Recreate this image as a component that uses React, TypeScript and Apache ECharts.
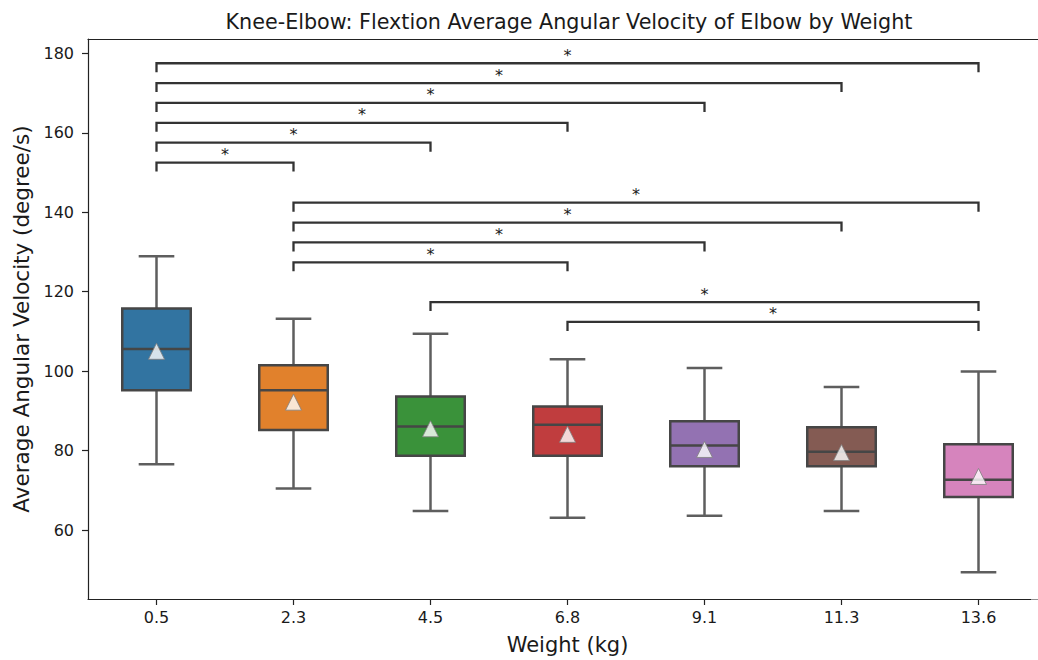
import React, { useEffect, useRef } from "react";
import * as echarts from "echarts";

// Weight categories (kg)
const weights = ["0.5", "2.3", "4.5", "6.8", "9.1", "11.3", "13.6"];

// Box statistics per weight: [lower whisker, Q1, median, Q3, upper whisker]
const lowerWhisker = [76.6, 70.5, 64.8, 63.1, 63.6, 64.8, 49.4];
const q1 = [95.2, 85.2, 78.7, 78.7, 76.1, 76.1, 68.3];
const median = [105.6, 95.2, 86.1, 86.5, 81.3, 79.7, 72.7];
const q3 = [115.8, 101.5, 93.6, 91.1, 87.4, 85.9, 81.6];
const upperWhisker = [128.9, 113.2, 109.4, 103.0, 100.8, 96.0, 99.9];
const means = [105.0, 92.2, 85.5, 84.1, 80.3, 79.5, 73.5];

const boxColors = ["#3274a1", "#e1812c", "#3a923a", "#c03d3e", "#9372b2", "#845b53", "#d684bd"];

// Significant pairwise comparisons: from-index, to-index, bracket height
const pairFrom = [0, 0, 0, 0, 0, 0, 1, 1, 1, 1, 2, 3];
const pairTo = [6, 5, 4, 3, 2, 1, 6, 5, 4, 3, 6, 6];
const pairHeight = [177.5, 172.5, 167.5, 162.5, 157.5, 152.5, 142.4, 137.4, 132.4, 127.4, 117.4, 112.4];
const pairMark = ["*", "*", "*", "*", "*", "*", "*", "*", "*", "*", "*", "*"];

const yTicks = [60, 80, 100, 120, 140, 160, 180];

const FONT = "DejaVu Sans";

export default function App() {
  const ref = useRef<HTMLDivElement>(null);

  useEffect(() => {
    if (!ref.current) return;
    const chart = echarts.init(ref.current, null, { renderer: "svg" });

    const boxData = weights.map((_, i) => [i, lowerWhisker[i], q1[i], median[i], q3[i], upperWhisker[i]]);
    const meanData = weights.map((_, i) => [i, means[i]]);
    const pairData = pairFrom.map((f, k) => [f, pairTo[k], pairHeight[k]]);

    const lineGray = "#5e5e5e";
    const boxEdge = "#464646";
    const spine = { show: true, lineStyle: { color: "#222", width: 1.2 } };

    chart.setOption({
      animation: false,
      title: {
        text: "Knee-Elbow: Flextion Average Angular Velocity of Elbow by Weight",
        left: 564,
        top: 6,
        textAlign: "center",
        textStyle: { fontFamily: FONT, fontSize: 20.7, fontWeight: "normal", color: "#1a1a1a" },
      },
      // the plot box runs a little past the visible right edge
      grid: { left: 88, right: 13, top: 39, bottom: 60 },
      xAxis: [
        {
          type: "category",
          data: weights,
          boundaryGap: true,
          name: "Weight (kg)",
          nameLocation: "middle",
          nameGap: 35,
          nameTextStyle: { fontFamily: FONT, fontSize: 21, color: "#1a1a1a" },
          axisLine: spine,
          axisTick: { show: true, alignWithLabel: true, length: 6, lineStyle: { color: "#222", width: 1.2 } },
          axisLabel: { fontFamily: FONT, fontSize: 16, color: "#1a1a1a", margin: 10 },
          splitLine: { show: false },
        },
        {
          // top spine
          type: "category",
          data: weights,
          position: "top",
          axisLine: spine,
          axisTick: { show: false },
          axisLabel: { show: false },
          splitLine: { show: false },
        },
      ],
      yAxis: {
        type: "value",
        min: 42.66,
        max: 183.6,
        name: "Average Angular Velocity (degree/s)",
        nameLocation: "middle",
        nameGap: 56,
        nameTextStyle: { fontFamily: FONT, fontSize: 21.5, color: "#1a1a1a" },
        axisLine: spine,
        axisTick: { show: true, length: 6, customValues: yTicks, lineStyle: { color: "#222", width: 1.2 } },
        axisLabel: { fontFamily: FONT, fontSize: 16, color: "#1a1a1a", margin: 14, customValues: yTicks },
        splitLine: { show: false },
      },
      graphic: [
        {
          // keep the strip at the canvas edge clean
          type: "rect",
          z: 100,
          shape: { x: 1031, y: 40.5, width: 40, height: 559 },
          style: { fill: "#ffffff" },
        },
      ],
      series: [
        {
          type: "custom",
          name: "boxes",
          data: boxData,
          encode: { x: 0, y: [1, 2, 3, 4, 5] },
          z: 2,
          renderItem: (params: any, api: any) => {
            const i = api.value(0);
            const band = api.size([1, 0])[0];
            const half = band * 0.25;
            const cap = band * 0.13;
            const pLo = api.coord([i, api.value(1)]);
            const pQ1 = api.coord([i, api.value(2)]);
            const pMed = api.coord([i, api.value(3)]);
            const pQ3 = api.coord([i, api.value(4)]);
            const pHi = api.coord([i, api.value(5)]);
            const cx = pMed[0];
            const wStyle = { stroke: lineGray, lineWidth: 2.5, fill: null };
            return {
              type: "group",
              children: [
                { type: "line", shape: { x1: cx, y1: pQ1[1], x2: cx, y2: pLo[1] }, style: wStyle },
                { type: "line", shape: { x1: cx, y1: pQ3[1], x2: cx, y2: pHi[1] }, style: wStyle },
                { type: "line", shape: { x1: cx - cap, y1: pLo[1], x2: cx + cap, y2: pLo[1] }, style: wStyle },
                { type: "line", shape: { x1: cx - cap, y1: pHi[1], x2: cx + cap, y2: pHi[1] }, style: wStyle },
                {
                  type: "rect",
                  shape: { x: cx - half, y: pQ3[1], width: half * 2, height: pQ1[1] - pQ3[1] },
                  style: { fill: boxColors[params.dataIndex], stroke: boxEdge, lineWidth: 2.5 },
                },
                {
                  type: "line",
                  shape: { x1: cx - half, y1: pMed[1], x2: cx + half, y2: pMed[1] },
                  style: { stroke: boxEdge, lineWidth: 2.5 },
                },
              ],
            };
          },
        },
        {
          type: "scatter",
          name: "mean",
          data: meanData,
          symbol: "triangle",
          symbolSize: 16,
          z: 3,
          itemStyle: { color: "#ffffff", borderColor: "#808080", borderWidth: 1 },
        },
        {
          type: "custom",
          name: "significance",
          data: pairData,
          encode: { x: [0, 1], y: 2 },
          z: 4,
          renderItem: (params: any, api: any) => {
            const a = api.coord([api.value(0), api.value(2)]);
            const b = api.coord([api.value(1), api.value(2)]);
            const leg = 9;
            const y = a[1];
            return {
              type: "group",
              children: [
                {
                  type: "polyline",
                  shape: { points: [[a[0], y + leg], [a[0], y], [b[0], y], [b[0], y + leg]] },
                  style: { stroke: "#333333", lineWidth: 2.3, fill: null },
                },
                {
                  type: "text",
                  style: {
                    text: pairMark[params.dataIndex],
                    x: (a[0] + b[0]) / 2,
                    y: y,
                    align: "center",
                    verticalAlign: "bottom",
                    fontFamily: FONT,
                    fontSize: 16,
                    fill: "#1a1a1a",
                  },
                },
              ],
            };
          },
        },
      ],
    });

    return () => chart.dispose();
  }, []);

  return (
    <div style={{ position: "absolute", left: 0, top: 0, width: 1038, height: 660, overflow: "hidden", background: "#fff" }}>
      <div ref={ref} style={{ width: 1060, height: 660 }} />
    </div>
  );
}
